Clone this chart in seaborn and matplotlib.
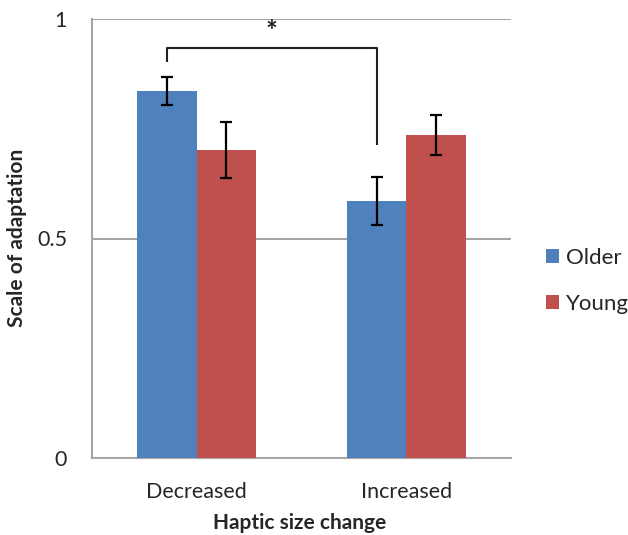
import matplotlib
matplotlib.use("Agg")
import matplotlib.pyplot as plt
import seaborn as sns
import pandas as pd
import numpy as np

categories = ["Decreased", "Increased"]
groups = ["Older", "Young"]
older_vals = [0.837, 0.585]
young_vals = [0.701, 0.736]
older_err = [0.032, 0.054]
young_err = [0.064, 0.046]
colors = ["#4F81BD", "#C0504D"]

df = pd.DataFrame({
    "change": categories * 2,
    "group": [groups[0]] * 2 + [groups[1]] * 2,
    "value": older_vals + young_vals,
    "err": older_err + young_err,
})

sns.set_style("white")
plt.rcParams["font.family"] = ["Lato", "DejaVu Sans"]

fig = plt.figure(figsize=(6.28, 5.35), dpi=100)
ax = fig.add_axes([92/628, 1-458/535, (511-92)/628, (458-19)/535])

sns.barplot(data=df, x="change", y="value", hue="group", order=categories,
            hue_order=groups, palette=colors, width=0.568, errorbar=None,
            saturation=1, ax=ax, zorder=3, linewidth=0)

# error bars from bar geometry
bars = [p for p in ax.patches if p.get_height() > 0]
for p in bars:
    cx = p.get_x() + p.get_width() / 2
    h = p.get_height()
    row = df[np.isclose(df["value"], h)].iloc[0]
    ax.errorbar(cx, h, yerr=row["err"], color="black", capsize=4.5,
                elinewidth=1.6, capthick=1.6, zorder=5)

# significance bracket between Older bars
blue = matplotlib.colors.to_rgba(colors[0])
older_bars = sorted([p for p in bars if np.allclose(p.get_facecolor()[:3], blue[:3], atol=0.02)],
                    key=lambda p: p.get_x())
x1 = older_bars[0].get_x() + older_bars[0].get_width() / 2
x2 = older_bars[1].get_x() + older_bars[1].get_width() / 2
ytop = 0.935
ax.plot([x1, x1, x2, x2], [ytop - 0.032, ytop, ytop, 0.712], color="#202020",
        lw=1.5, zorder=6, solid_capstyle="butt")
ax.text((x1 + x2) / 2, ytop + 0.005, "*", ha="center", va="bottom",
        fontsize=20, fontweight="bold", color="#202020")

ax.set_xlim(-0.5, 1.5)
ax.set_ylim(0, 1)
ax.set_yticks([0, 0.5, 1])
ax.set_yticklabels(["0", "0.5", "1"])
ax.yaxis.grid(True, color="#A6A6A6", lw=1.5, zorder=0)
ax.set_axisbelow(True)
for s in ["top", "right"]:
    ax.spines[s].set_visible(False)
for s in ["left", "bottom"]:
    ax.spines[s].set_color("#A6A6A6")
    ax.spines[s].set_linewidth(1.5)

ax.set_xticks([-0.5, 0.5, 1.5], minor=False)
ax.set_xticklabels([])
ax.set_xticks([0, 1], minor=True)
ax.set_xticklabels(categories, minor=True)
ax.tick_params(axis="x", which="major", length=7, width=1.5, color="#A6A6A6")
ax.tick_params(axis="x", which="minor", length=0, pad=17, labelsize=15.5)
ax.tick_params(axis="y", length=8, width=1.5, color="#A6A6A6", labelsize=15.5, pad=10)
ax.tick_params(axis="both", direction="out")

ax.set_xlabel("Haptic size change", fontsize=15, fontweight="bold")
ax.set_ylabel("Scale of adaptation", fontsize=15, fontweight="bold")
ax.xaxis.set_label_coords(0.496, -0.125)
ax.yaxis.set_label_coords(-0.155, 0.501)

ax.legend(frameon=False, loc="center left", bbox_to_anchor=(546/628, 1-281/535),
          bbox_transform=fig.transFigure, borderaxespad=0, borderpad=0,
          fontsize=16, handlelength=0.6, handleheight=0.6, handletextpad=0.3,
          labelspacing=1.15)

fig.savefig("out.png", dpi=100)
